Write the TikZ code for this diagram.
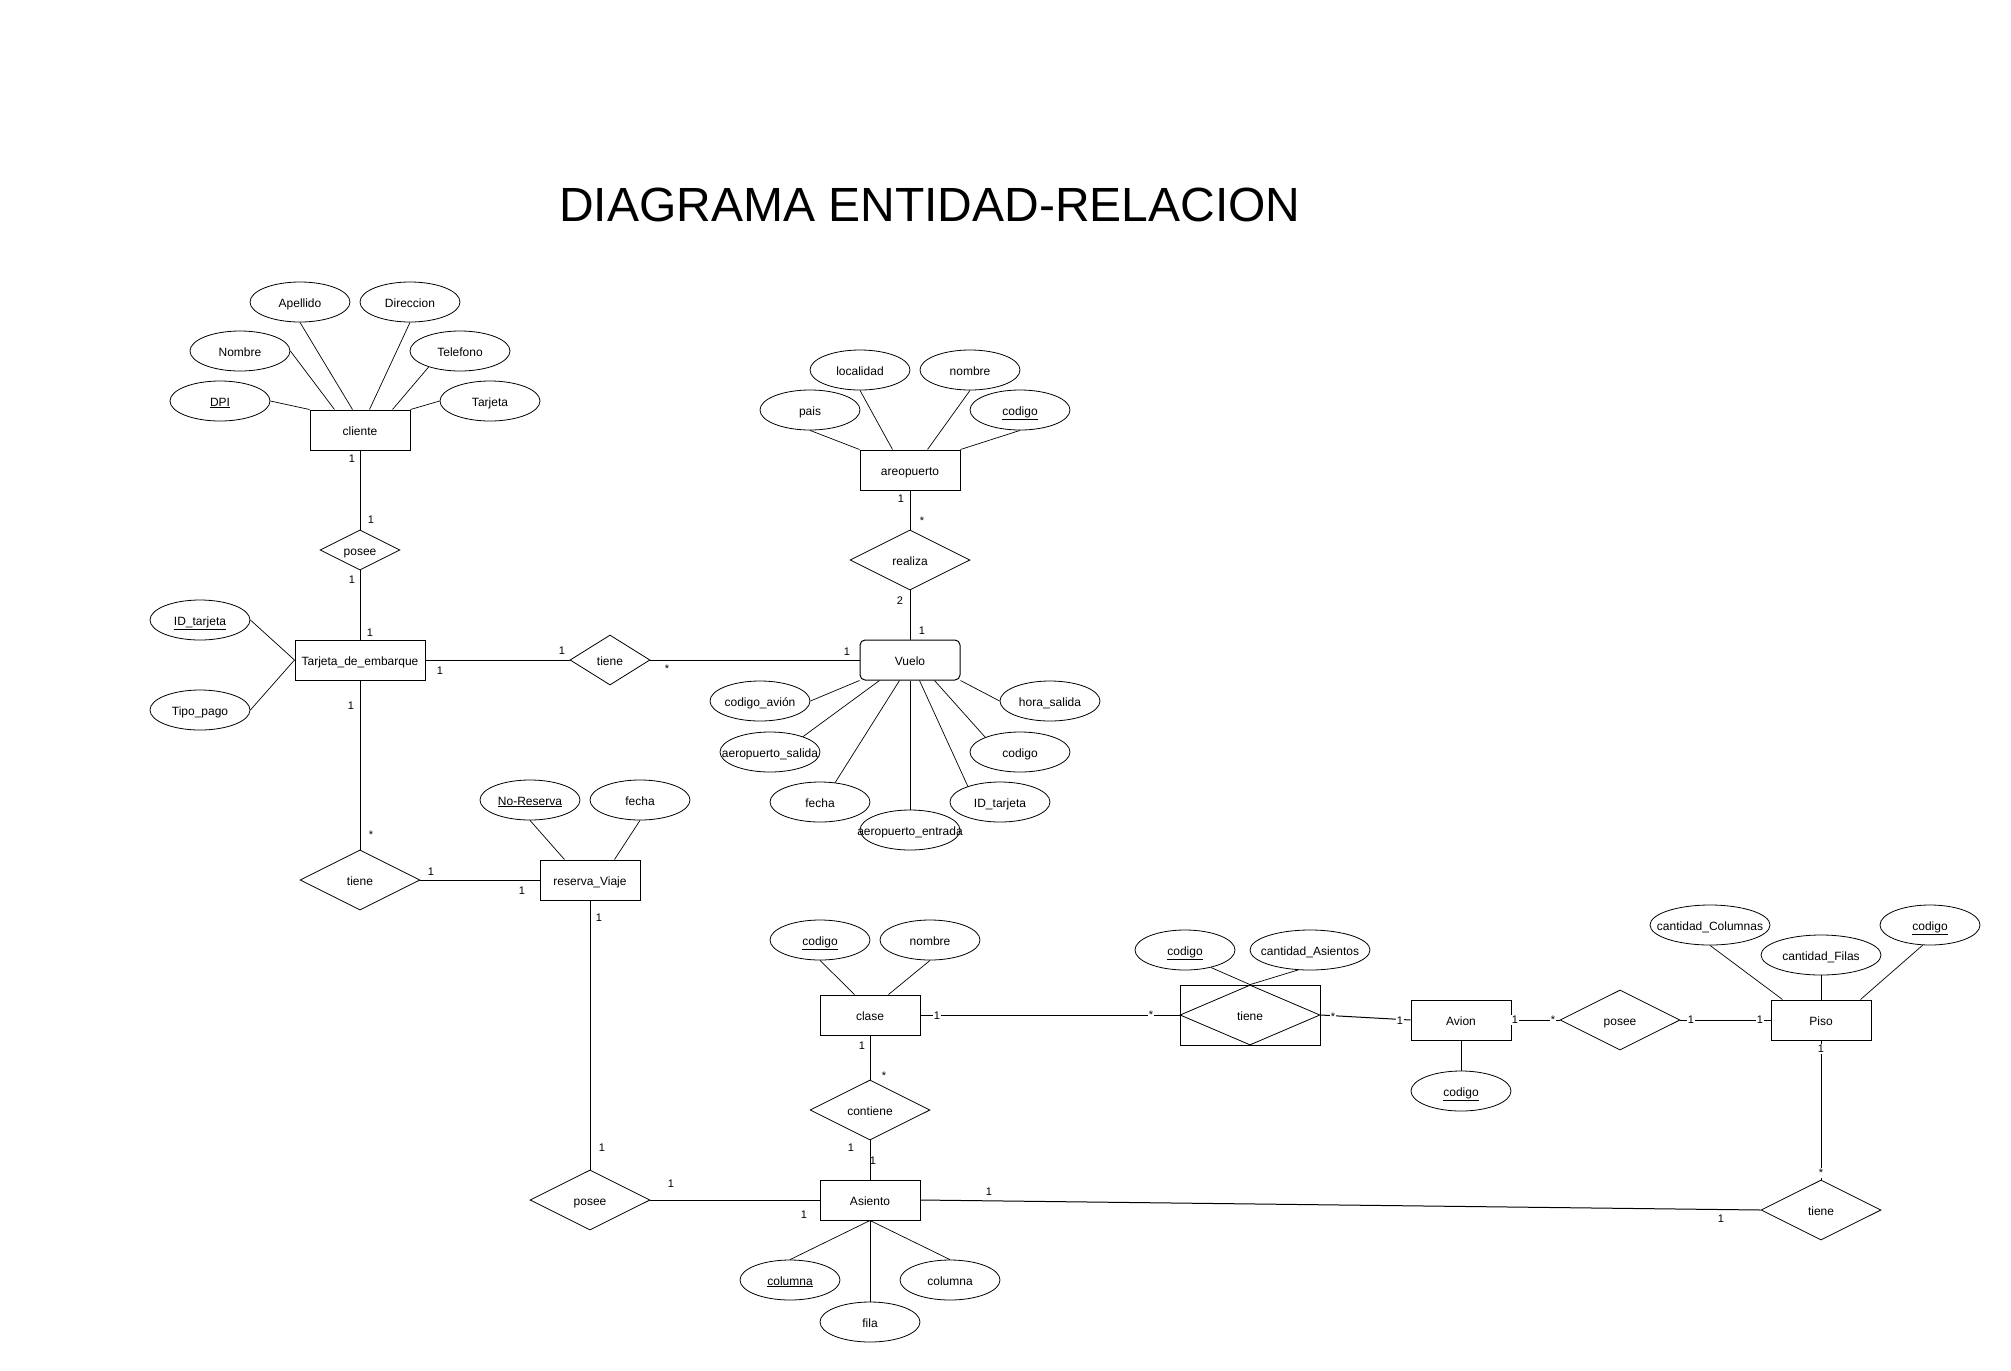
\documentclass[tikz,border=0pt]{standalone}
\usepackage{fontspec}
\setmainfont{Liberation Sans}
\usetikzlibrary{shapes.geometric}

\tikzset{
  entidad/.style={draw, rectangle, line width=1pt, minimum width=100pt, minimum height=40pt,
    inner sep=0pt, text height=11pt, text depth=1pt, font=\fontsize{12}{14}\selectfont},
  atributo/.style={draw, ellipse, line width=0.8pt, minimum width=100pt, minimum height=40pt,
    inner sep=0pt, text height=11pt, text depth=1pt, font=\fontsize{12}{14}\selectfont,
    execute at begin node={\hbox to 0pt\bgroup\hss}, execute at end node={\hss\egroup}},
  relacion/.style={draw, diamond, line width=0.8pt, minimum width=120pt, minimum height=60pt,
    inner sep=0pt, text height=11pt, text depth=1pt, font=\fontsize{12}{14}\selectfont,
    execute at begin node={\hbox to 0pt\bgroup\hss}, execute at end node={\hss\egroup}},
  card/.style={inner sep=1pt, font=\fontsize{11}{13}\selectfont},
  enlinea/.style={card, fill=white},
  enlace/.style={line width=1pt},
  attrlinea/.style={line width=0.7pt}
}

\begin{document}
\begin{tikzpicture}[x=1pt,y=-1pt]
  \useasboundingbox (0,0) rectangle (2011,1371);

  \node (titulo) at (930,205) {\fontsize{48}{56}\selectfont DIAGRAMA ENTIDAD-RELACION};

  % cliente
  \node[entidad] (cliente) at (360,430) {cliente};
    \node[atributo] (apellido) at (300,302) {Apellido};
    \node[atributo] (direccion) at (410,302) {Direccion};
    \node[atributo] (nombre) at (240,351) {Nombre};
    \node[atributo] (telefono) at (460,351) {Telefono};
    \node[atributo] (dpi) at (220,401) {\underline{DPI}};
    \node[atributo] (tarjeta) at (490,401) {Tarjeta};
    \draw[attrlinea] (dpi.east) -- (cliente.north west);
    \draw[attrlinea] (nombre.east) -- ([xshift=25pt]cliente.north west);
    \draw[attrlinea] (apellido.south) -- ([xshift=43pt]cliente.north west);
    \draw[attrlinea] (direccion.south) -- ([xshift=60pt]cliente.north west);
    \draw[attrlinea] (telefono.207) -- ([xshift=83pt]cliente.north west);
    \draw[attrlinea] (tarjeta.west) -- (cliente.north east);

  \node[relacion, minimum width=80pt, minimum height=40pt] (poseeC) at (360,550) {posee};

  % Tarjeta_de_embarque
  \node[entidad, minimum width=130pt] (tarjetaE) at (360,660) {Tarjeta\_de\_embarque};
    \node[atributo] (idtar) at (200,620) {\underline{ID\_tarjeta}};
    \node[atributo] (tipopago) at (200,710) {Tipo\_pago};
    \draw[attrlinea] (idtar.east) -- (tarjetaE.west);
    \draw[attrlinea] (tipopago.east) -- (tarjetaE.west);

  \node[relacion, minimum width=80pt, minimum height=50pt] (tieneV) at (610,660) {tiene};

  % areopuerto
  \node[entidad] (aerop) at (910,470) {areopuerto};
    \node[atributo] (localidad) at (860,370) {localidad};
    \node[atributo] (nombreA) at (970,370) {nombre};
    \node[atributo] (pais) at (810,410) {pais};
    \node[atributo] (codigoA) at (1020,410) {\underline{codigo}};
    \draw[attrlinea] (pais.south) -- (aerop.north west);
    \draw[attrlinea] (localidad.south) -- ([xshift=33pt]aerop.north west);
    \draw[attrlinea] (nombreA.south) -- ([xshift=68pt]aerop.north west);
    \draw[attrlinea] (codigoA.south) -- (aerop.north east);

  \node[relacion] (realiza) at (910,560) {realiza};

  % Vuelo
  \node[entidad, rounded corners=5pt] (vuelo) at (910,660) {Vuelo};
    \node[atributo] (codav) at (760,701) {codigo\_avión};
    \node[atributo] (aerosal) at (770,752) {aeropuerto\_salida};
    \node[atributo] (fechaV) at (820,802) {fecha};
    \node[atributo] (aeroent) at (910,830) {aeropuerto\_entrada};
    \node[atributo] (idtarV) at (1000,802) {ID\_tarjeta};
    \node[atributo] (codigoV) at (1020,752) {codigo};
    \node[atributo] (horasal) at (1050,701) {hora\_salida};
    \draw[attrlinea] (codav.east) -- (vuelo.south west);
    \draw[attrlinea] (aerosal.25) -- ([xshift=20pt]vuelo.south west);
    \draw[attrlinea] (fechaV.52) -- ([xshift=40pt]vuelo.south west);
    \draw[attrlinea] (aeroent.north) -- (vuelo.south);
    \draw[attrlinea] (idtarV.154) -- ([xshift=60pt]vuelo.south west);
    \draw[attrlinea] (codigoV.157) -- ([xshift=75pt]vuelo.south west);
    \draw[attrlinea] (horasal.west) -- (vuelo.south east);

  % reserva_Viaje
  \node[relacion] (tieneR) at (360,880) {tiene};
  \node[entidad] (reserva) at (590,880) {reserva\_Viaje};
    \node[atributo] (noreserva) at (530,800) {\underline{No-Reserva}};
    \node[atributo] (fechaR) at (640,800) {fecha};
    \draw[attrlinea] (noreserva.south) -- ([xshift=25pt]reserva.north west);
    \draw[attrlinea] (fechaR.south) -- ([xshift=75pt]reserva.north west);

  \node[relacion] (poseeA) at (590,1200) {posee};

  % clase
  \node[entidad] (clase) at (870,1015) {clase};
    \node[atributo] (codigoC) at (820,940) {\underline{codigo}};
    \node[atributo] (nombreC) at (930,940) {nombre};
    \draw[attrlinea] (codigoC.south) -- ([xshift=35pt]clase.north west);
    \draw[attrlinea] (nombreC.south) -- ([xshift=69pt]clase.north west);

  \node[relacion] (contiene) at (870,1110) {contiene};

  % tiene (entidad asociativa)
  \node[entidad, minimum width=140pt, minimum height=60pt] (tieneA) at (1250,1015) {};
  \node[relacion, minimum width=140pt, minimum height=60pt] (tieneD) at (1250,1015) {tiene};
    \node[atributo] (codigoT) at (1185,950) {\underline{codigo}};
    \node[atributo, minimum width=120pt] (cantasi) at (1310,950) {cantidad\_Asientos};
    \draw[attrlinea] (codigoT.326) -- (tieneD.north);
    \draw[attrlinea] (cantasi.239) -- (tieneD.north);

  % Avion
  \node[entidad] (avion) at (1461,1020) {Avion};
    \node[atributo] (codigoAv) at (1461,1091) {\underline{codigo}};
    \draw[attrlinea] (avion.south) -- (codigoAv.north);

  \node[relacion] (poseeP) at (1620,1020) {posee};

  % Piso
  \node[entidad] (piso) at (1821,1020) {Piso};
    \node[atributo, minimum width=120pt] (cantcol) at (1710,925) {cantidad\_Columnas};
    \node[atributo, minimum width=120pt] (cantfil) at (1821,955) {cantidad\_Filas};
    \node[atributo] (codigoP) at (1930,925) {\underline{codigo}};
    \draw[attrlinea] (cantcol.south) -- ([xshift=12pt]piso.north west);
    \draw[attrlinea] (cantfil.south) -- (piso.north);
    \draw[attrlinea] (codigoP.250) -- ([xshift=90pt]piso.north west);

  \node[relacion] (tieneP) at (1821,1210) {tiene};

  % Asiento
  \node[entidad] (asiento) at (870,1200) {Asiento};
    \node[atributo] (columnaU) at (790,1280) {\underline{columna}};
    \node[atributo] (fila) at (870,1322) {fila};
    \node[atributo] (columna) at (950,1280) {columna};
    \draw[attrlinea] (asiento.south) -- (columnaU.north);
    \draw[attrlinea] (asiento.south) -- (fila.north);
    \draw[attrlinea] (asiento.south) -- (columna.north);

  % relaciones
  \draw[enlace] (cliente.south) -- (poseeC.north);
  \draw[enlace] (poseeC.south) -- (tarjetaE.north);
  \draw[enlace] (tarjetaE.east) -- (tieneV.west);
  \draw[enlace] (tieneV.east) -- (vuelo.west);
  \draw[enlace] (aerop.south) -- (realiza.north);
  \draw[enlace] (realiza.south) -- (vuelo.north);
  \draw[enlace] (tarjetaE.south) -- (tieneR.north);
  \draw[enlace] (tieneR.east) -- (reserva.west);
  \draw[enlace] (reserva.south) -- (poseeA.north);
  \draw[enlace] (poseeA.east) -- (asiento.west);
  \draw[enlace] (clase.south) -- (contiene.north);
  \draw[enlace] (contiene.south) -- (asiento.north);
  \draw[enlace] (clase.east) -- (tieneA.west);
  \draw[enlace] (tieneA.east) -- (avion.west);
  \draw[enlace] (avion.east) -- (poseeP.west);
  \draw[enlace] (poseeP.east) -- (piso.west);
  \draw[enlace] (piso.south) -- (tieneP.north);
  \draw[enlace] (asiento.east) -- (tieneP.west);

  % cardinalidades
  \node[card] (c1) at (352,459) {1};
  \node[card] (c2) at (371,520) {1};
  \node[card] (c3) at (352,580) {1};
  \node[card] (c4) at (370,633) {1};
  \node[card] (c5) at (440,671) {1};
  \node[card] (c6) at (562,651) {1};
  \node[card] (c7) at (667,669) {*};
  \node[card] (c8) at (847,652) {1};
  \node[card] (c9) at (901,499) {1};
  \node[card] (c10) at (922,521) {*};
  \node[card] (c11) at (900,601) {2};
  \node[card] (c12) at (922,631) {1};
  \node[card] (c13) at (351,706) {1};
  \node[card] (c14) at (371,835) {*};
  \node[card] (c15) at (431,872) {1};
  \node[card] (c16) at (522,891) {1};
  \node[card] (c17) at (599,918) {1};
  \node[card] (c18) at (602,1148) {1};
  \node[card] (c19) at (671,1184) {1};
  \node[card] (c20) at (804,1215) {1};
  \node[card] (c21) at (862,1046) {1};
  \node[card] (c22) at (884,1076) {*};
  \node[card] (c23) at (851,1148) {1};
  \node[card] (c24) at (873,1161) {1};
  \node[enlinea] (c25) at (937,1016) {1};
  \node[enlinea] (c26) at (1151,1015) {*};
  \node[enlinea] (c27) at (1333,1017) {*};
  \node[enlinea] (c28) at (1400,1021) {1};
  \node[enlinea] (c29) at (1515,1020) {1};
  \node[enlinea] (c30) at (1553,1020) {*};
  \node[enlinea] (c31) at (1691,1020) {1};
  \node[enlinea] (c32) at (1760,1020) {1};
  \node[enlinea] (c33) at (1821,1049) {1};
  \node[enlinea] (c34) at (1821,1173) {*};
  \node[card] (c35) at (989,1192) {1};
  \node[card] (c36) at (1721,1219) {1};

\end{tikzpicture}
\end{document}
